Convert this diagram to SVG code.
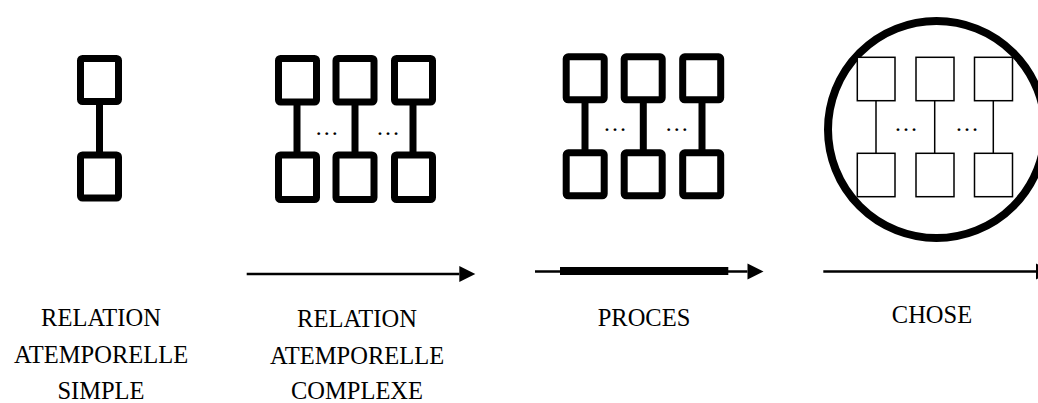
<svg xmlns="http://www.w3.org/2000/svg" width="1038" height="403" viewBox="0 0 1038 403">
<style>
.bold{fill:#fff;stroke:#000;stroke-width:7;stroke-linejoin:round}
.boldl{stroke:#000;stroke-width:7}
.thin{fill:#fff;stroke:#000;stroke-width:1.5}
.thinl{stroke:#000;stroke-width:1.5}
.ax{stroke:#000;stroke-width:2.5;fill:none}
.t{font-family:"Liberation Serif","Times New Roman",serif;font-size:24.5px;fill:#000;text-anchor:middle}
.dots{font-family:"Liberation Serif","Times New Roman",serif;font-size:24px;fill:#000;text-anchor:middle}
</style>
<defs>
<marker id="ah" markerUnits="userSpaceOnUse" markerWidth="17" markerHeight="17" refX="0" refY="8" orient="auto" overflow="visible">
<path d="M0,0 L16,8 L0,16 Z" fill="#000"/>
</marker>
</defs>
<rect width="1038" height="403" fill="#fff"/>

<g id="simple">
<line class="boldl" x1="99.5" y1="102" x2="99.5" y2="155"/>
<rect class="bold" x="80.5" y="58.5" width="38" height="43" rx="2"/>
<rect class="bold" x="80.5" y="155" width="38" height="43" rx="2"/>
<text class="t" x="101" y="326">RELATION</text>
<text class="t" x="101" y="362.5">ATEMPORELLE</text>
<text class="t" x="101" y="398.5">SIMPLE</text>
</g>

<g id="complexe">
<line class="boldl" x1="297" y1="102" x2="297" y2="155"/>
<line class="boldl" x1="355" y1="102" x2="355" y2="155"/>
<line class="boldl" x1="413" y1="102" x2="413" y2="155"/>
<rect class="bold" x="278.5" y="58.5" width="38" height="43.5" rx="2"/>
<rect class="bold" x="336" y="58.5" width="38" height="43.5" rx="2"/>
<rect class="bold" x="394.5" y="58.5" width="38" height="43.5" rx="2"/>
<rect class="bold" x="278.5" y="155" width="38" height="44.5" rx="2"/>
<rect class="bold" x="336" y="155" width="38" height="44.5" rx="2"/>
<rect class="bold" x="394.5" y="155" width="38" height="44.5" rx="2"/>
<text class="dots" x="326.7" y="134.5">…</text>
<text class="dots" x="388" y="134.5">…</text>
<text class="t" x="357" y="327">RELATION</text>
<text class="t" x="357" y="363.5">ATEMPORELLE</text>
<text class="t" x="357" y="399">COMPLEXE</text>
</g>

<g id="proces">
<line class="boldl" x1="585" y1="100" x2="585" y2="153"/>
<line class="boldl" x1="643.3" y1="100" x2="643.3" y2="153"/>
<line class="boldl" x1="702" y1="100" x2="702" y2="153"/>
<rect class="bold" x="566.2" y="56.8" width="38" height="43" rx="2"/>
<rect class="bold" x="624.2" y="56.8" width="38" height="43" rx="2"/>
<rect class="bold" x="682.7" y="56.8" width="38" height="43" rx="2"/>
<rect class="bold" x="566.2" y="152.8" width="38" height="43" rx="2"/>
<rect class="bold" x="624.2" y="152.8" width="38" height="43" rx="2"/>
<rect class="bold" x="682.7" y="152.8" width="38" height="43" rx="2"/>
<text class="dots" x="615" y="131">…</text>
<text class="dots" x="676.7" y="131">…</text>
<text class="t" x="644" y="326">PROCES</text>
</g>

<g id="chose">
<circle cx="936.5" cy="129.5" r="108.5" fill="#fff" stroke="#000" stroke-width="8"/>
<line class="thinl" x1="876" y1="100.7" x2="876" y2="153.3"/>
<line class="thinl" x1="934.7" y1="100.7" x2="934.7" y2="153.3"/>
<line class="thinl" x1="993.3" y1="100.7" x2="993.3" y2="153.3"/>
<rect class="thin" x="857.3" y="57.3" width="37.7" height="43.4"/>
<rect class="thin" x="916" y="57.3" width="38" height="43.4"/>
<rect class="thin" x="974.5" y="57.3" width="38" height="43.4"/>
<rect class="thin" x="857.3" y="153.3" width="37.7" height="43.4"/>
<rect class="thin" x="916" y="153.3" width="38" height="43.4"/>
<rect class="thin" x="974.5" y="153.3" width="38" height="43.4"/>
<text class="dots" x="906" y="131">…</text>
<text class="dots" x="967" y="131">…</text>
<text class="t" x="932" y="323">CHOSE</text>
</g>

<g id="connectors">
<line class="ax" x1="246.7" y1="274" x2="459.3" y2="274" marker-end="url(#ah)"/>
<line class="ax" x1="535" y1="271.5" x2="747.5" y2="271.5" marker-end="url(#ah)"/>
<rect x="560" y="267" width="168.3" height="8" fill="#000"/>
<line class="ax" x1="823.3" y1="271.5" x2="1036" y2="271.5" marker-end="url(#ah)"/>
</g>
</svg>
